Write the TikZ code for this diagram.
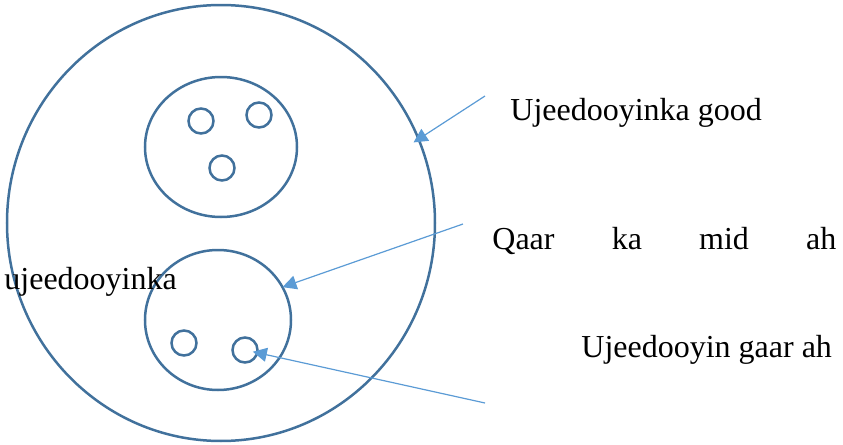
\documentclass[tikz,border=0pt]{standalone}
\usepackage{fontspec}
\setmainfont{Liberation Serif}
\usetikzlibrary{shapes.geometric,arrows.meta}
\begin{document}
\begin{tikzpicture}
            [x=0.5pt, y=-0.5pt, font=\fontsize{16}{19}\selectfont,
            ring/.style={ellipse, draw=ringblue, line width=1.25pt, inner sep=0pt, outer sep=0pt},
            dot/.style={circle, draw=ringblue, line width=1.25pt, inner sep=0pt, outer sep=0pt, minimum size=12.5pt},
            pointer/.style={draw=arrowblue, line width=0.6pt, -{Triangle[length=7pt, width=7pt]}},
            label/.style={inner sep=0pt, anchor=base west}]
            \definecolor{ringblue}{HTML}{41719C}
            \definecolor{arrowblue}{HTML}{5B9BD5}
            \useasboundingbox (0,0) rectangle (843,445);
            % circles
            \node [ring, minimum width=214pt, minimum height=218pt] (outer) at (221,223) {};
            \node [ring, minimum width=76pt, minimum height=70pt] (upper) at (221,147) {};
            \node [ring, minimum width=73pt, minimum height=70pt] (lower) at (218,320) {};
            \node [dot] (dot1) at (201,121) {};
            \node [dot] (dot2) at (259,115) {};
            \node [dot] (dot3) at (222,168) {};
            \node [dot] (dot4) at (184,343) {};
            \node [dot] (dot5) at (245,350) {};
            % texts
            \node [label] (good) at (510,120) {Ujeedooyinka good};
            \node [label] (some) at (492,249) {\makebox[172pt][s]{Qaar ka mid ah}};
            \node [label] (some2) at (4,289) {ujeedooyinka};
            \node [label] (own) at (581,357) {Ujeedooyin gaar ah};
            % arrows
            \coordinate (tail1) at (485,96);
            \coordinate (tail2) at (463,224);
            \coordinate (tail3) at (485,403);
            \draw [pointer, shorten >=-3pt] (tail1) -- (outer.23);
            \draw [pointer] (tail2) -- (lower.27);
            \draw [pointer, shorten >=4pt] (tail3) -- (dot5.center);
\end{tikzpicture}
\end{document}
